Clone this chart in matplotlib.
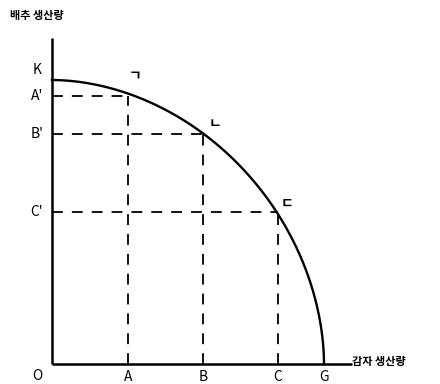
import numpy as np
import matplotlib
matplotlib.use("Agg")
import matplotlib.pyplot as plt

plt.rcParams['font.family'] = ['Noto Sans CJK KR', 'DejaVu Sans']

# data (potato quantity on x, cabbage quantity on y)
K_val = 284
G_val = 272
x_points = [76, 151, 226]          # A, B, C
y_points = [268, 230, 152]         # A', B', C'
x_labels = ['A', 'B', 'C']
y_labels = ["A'", "B'", "C'"]
point_marks = ['ㄱ', 'ㄴ', 'ㄷ']
curve_exp = 1.9

fig = plt.figure(figsize=(4.4, 3.84), dpi=100)
ax = fig.add_axes([0, 0, 1, 1])
ax.set_xlim(-52, 388)
ax.set_ylim(-20, 364)
ax.axis('off')

# axes
ax.plot([0, 0], [0, 326], color='black', lw=1.8, solid_capstyle='butt')
ax.plot([0, 300], [0, 0], color='black', lw=1.8, solid_capstyle='butt')

# frontier
t = np.linspace(0, np.pi / 2, 400)
cx = G_val * np.sin(t) ** (2 / curve_exp)
cy = K_val * np.cos(t) ** (2 / curve_exp)
ax.plot(cx, cy, color='black', lw=1.7)

# dashed guides
for xv, yv in zip(x_points, y_points):
    ax.plot([0, xv], [yv, yv], color='black', lw=1.3, dashes=(6, 5))
    ax.plot([xv, xv], [0, yv], color='black', lw=1.3, dashes=(6, 5))

fs = 10
ax.text(-15, K_val + 10, 'K', ha='center', va='center', fontsize=fs, fontweight='medium')
for yv, lab in zip(y_points, y_labels):
    ax.text(-15, yv, lab, ha='center', va='center', fontsize=fs, fontweight='medium')
ax.text(-15, -12, 'O', ha='center', va='center', fontsize=fs, fontweight='medium')
for xv, lab in zip(x_points, x_labels):
    ax.text(xv, -13, lab, ha='center', va='center', fontsize=fs, fontweight='medium')
ax.text(G_val, -13, 'G', ha='center', va='center', fontsize=fs, fontweight='medium')

offsets = [(7, 20), (12, 10), (9, 8)]
for (xv, yv), mark, (dx, dy) in zip(zip(x_points, y_points), point_marks, offsets):
    ax.text(xv + dx, yv + dy, mark, ha='center', va='center', fontsize=10, fontweight='bold')

ax.text(-42, 349, '배추 생산량', ha='left', va='center', fontsize=8, fontweight='bold')
ax.text(300, 2, '감자 생산량', ha='left', va='center', fontsize=8, fontweight='bold')

fig.savefig('out.png', dpi=100)
